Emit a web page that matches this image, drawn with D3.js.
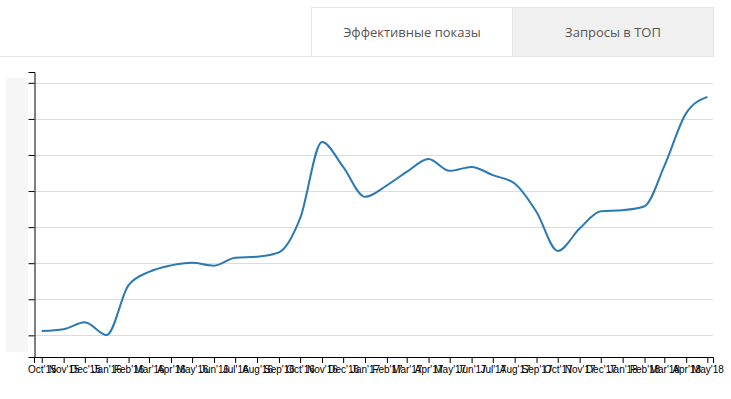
<!DOCTYPE html>
<html>
<head>
<meta charset="utf-8">
<script src="https://cdn.jsdelivr.net/npm/d3@7"></script>
<style>
  body { margin: 0; background: #fff; }
  svg { display: block; }
  .tab-text { font-family: "Open Sans", sans-serif; font-size: 13px; fill: #555; }
</style>
</head>
<body>
<svg id="chart" width="731" height="399"></svg>
<script>
const months = ["2015-10","2015-11","2015-12","2016-01","2016-02","2016-03","2016-04","2016-05",
  "2016-06","2016-07","2016-08","2016-09","2016-10","2016-11","2016-12","2017-01","2017-02",
  "2017-03","2017-04","2017-05","2017-06","2017-07","2017-08","2017-09","2017-10","2017-11",
  "2017-12","2018-01","2018-02","2018-03","2018-04","2018-05"];
const values = [112,117,136,101,239,276,294,301,293,315,318,330,424,636,567,484,516,553,589,556,
  567,544,521,442,334,396,444,447,458,569,716,761];
const yTicks = [100,200,300,400,500,600,700,800];
const tabLabels = ["Эффективные показы", "Запросы в ТОП"];

const svg = d3.select("#chart");
const parse = d3.timeParse("%Y-%m");
const data = months.map((m, i) => ({ date: parse(m), value: values[i] }));

// Tabs header
svg.append("line").attr("x1", 0).attr("x2", 311.5).attr("y1", 56.5).attr("y2", 56.5)
  .attr("stroke", "#e6e6e6");
svg.append("rect").attr("x", 311.5).attr("y", 7.5).attr("width", 201).attr("height", 49)
  .attr("fill", "#fff").attr("stroke", "#e6e6e6");
svg.append("rect").attr("x", 512.5).attr("y", 7.5).attr("width", 201).attr("height", 49)
  .attr("fill", "#f0f0f0").attr("stroke", "#e6e6e6");
svg.append("text").attr("class", "tab-text").attr("x", 412).attr("y", 37)
  .attr("text-anchor", "middle").text(tabLabels[0]);
svg.append("text").attr("class", "tab-text").attr("x", 613).attr("y", 37)
  .attr("text-anchor", "middle").text(tabLabels[1]);

// placeholder block on the left
svg.append("rect").attr("x", 6).attr("y", 78).attr("width", 22).attr("height", 274)
  .attr("fill", "#f6f6f6");

const x = d3.scaleTime()
  .domain([new Date(2015, 8, 20), new Date(2018, 4, 9)])
  .range([34, 713]);
const y = d3.scaleLinear().domain([40, 830]).range([357, 72]);

// gridlines
svg.append("g").selectAll("line").data(yTicks).join("line")
  .attr("x1", 34).attr("x2", 713)
  .attr("y1", d => Math.round(y(d)) + 0.5).attr("y2", d => Math.round(y(d)) + 0.5)
  .attr("stroke", "#dcdcdc");

// y axis (no labels)
svg.append("g").attr("transform", "translate(34.5,0)")
  .call(d3.axisLeft(y).tickValues(yTicks).tickFormat("").tickSize(6))
  .call(g => g.selectAll("path,line").attr("stroke", "#000"));

// x axis
svg.append("g").attr("transform", "translate(0,357)")
  .call(d3.axisBottom(x).ticks(d3.timeMonth.every(1)).tickFormat(d3.timeFormat("%b'%y")).tickSize(6))
  .call(g => g.selectAll("text").attr("font-family", "Liberation Sans, Arial, sans-serif")
    .attr("font-size", 10).attr("fill", "#000"));

// line
const line = d3.line().x(d => x(d.date)).y(d => y(d.value)).curve(d3.curveMonotoneX);
svg.append("path").datum(data).attr("d", line)
  .attr("fill", "none").attr("stroke", "#2a78b4").attr("stroke-width", 2);
</script>
</body>
</html>
